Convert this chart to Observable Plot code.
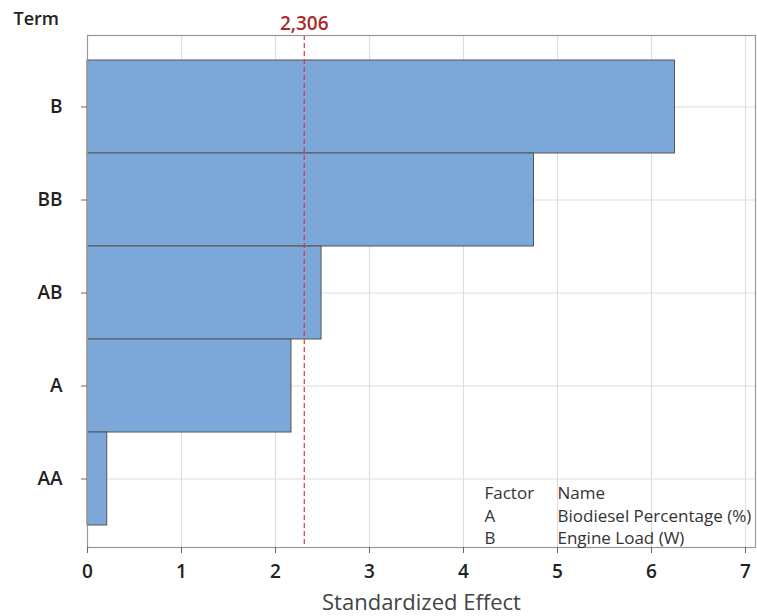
<!DOCTYPE html>
<html><head><meta charset="utf-8">
<script src="https://cdn.jsdelivr.net/npm/d3@7"></script>
<script src="https://cdn.jsdelivr.net/npm/@observablehq/plot@0.6"></script>
<style>body{margin:0;background:#fff}</style>
</head><body><div id="chart"></div>
<script>
const terms = ["B", "BB", "AB", "A", "AA"];
const effects = [6.25, 4.75, 2.49, 2.17, 0.21];
const xTicks = [0, 1, 2, 3, 4, 5, 6, 7];
const refValue = 2.306;
const refLabel = "2,306";
const factorCodes = ["A", "B"];
const factorNames = ["Biodiesel Percentage (%)", "Engine Load (W)"];

const data = terms.map((t, i) => ({term: t, effect: effects[i]}));
const font = "'Open Sans', 'Noto Sans', sans-serif";

const chart = Plot.plot({
  width: 757,
  height: 616,
  marginTop: 35,
  marginBottom: 69,
  marginLeft: 87,
  marginRight: 2,
  style: {fontFamily: font, background: "#fff"},
  x: {domain: [0, 7], insetRight: 10, ticks: xTicks},
  y: {domain: terms, padding: 0, insetTop: 24, insetBottom: 22},
  marks: [
    Plot.gridX(xTicks, {stroke: "#ddd", strokeOpacity: 1}),
    Plot.gridY(terms, {stroke: "#ddd", strokeOpacity: 1}),
    Plot.barX(data, {x: "effect", y: "term", fill: "#7ba7d9", stroke: "#555", strokeWidth: 1}),
    Plot.ruleX([refValue], {stroke: "#d63a44", strokeWidth: 1.2, strokeDasharray: "5,3"}),
    Plot.frame({stroke: "#999", strokeWidth: 1.2}),
    Plot.axisX(xTicks, {anchor: "bottom", tickSize: 6, tickPadding: 11, stroke: "#666", fontSize: 19, fontWeight: 600, fill: "#222", label: null, tickFormat: d => String(d)}),
    Plot.axisY(terms, {anchor: "left", tickSize: 6, tickPadding: 19, stroke: "#666", fontSize: 19, fontWeight: 600, fill: "#222", label: null}),
    Plot.text([refLabel], {x: refValue, frameAnchor: "top", dy: -19, text: d => d, fill: "#a8282c", fontSize: 19, fontWeight: 600}),
    Plot.text(["Term"], {frameAnchor: "top-left", dx: -74, dy: -23, textAnchor: "start", text: d => d, fill: "#222", fontSize: 18, fontWeight: 600}),
    Plot.text(["Standardized Effect"], {frameAnchor: "bottom", dy: 62, text: d => d, fill: "#444", fontSize: 22}),
    Plot.text([["Factor", ...factorCodes].join("\n")], {frameAnchor: "bottom-left", dx: 397, dy: -64, textAnchor: "start", lineAnchor: "top", lineHeight: 1.32, text: d => d, fill: "#333", fontSize: 17}),
    Plot.text([["Name", ...factorNames].join("\n")], {frameAnchor: "bottom-left", dx: 470, dy: -64, textAnchor: "start", lineAnchor: "top", lineHeight: 1.32, text: d => d, fill: "#333", fontSize: 17})
  ]
});
document.getElementById("chart").appendChild(chart);
</script>
</body></html>
